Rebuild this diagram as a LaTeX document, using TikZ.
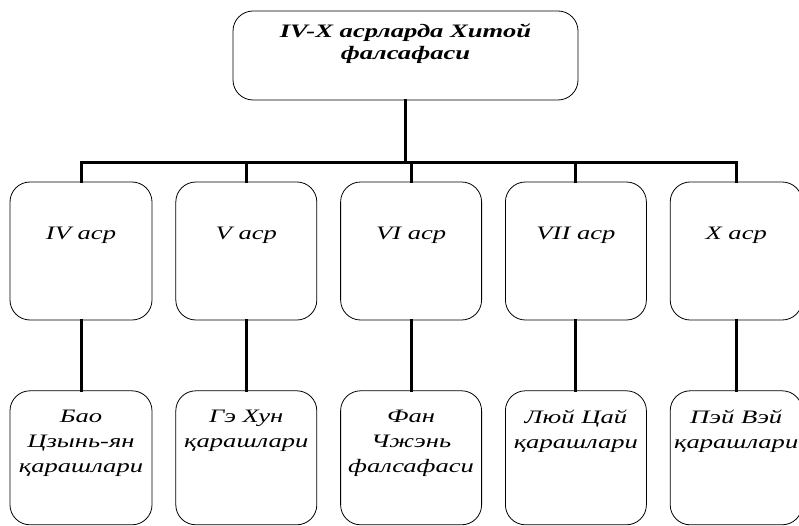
\documentclass[tikz,border=0pt]{standalone}
\usepackage{fontspec}
\newfontfamily\cyrserif{Liberation Serif}[FakeStretch=1.4]
\usetikzlibrary{positioning}

% text set at the top of a fixed box: width, height, top skip, text
\newcommand{\boxtxt}[4]{\parbox[c][#2][t]{#1}{\centering\vspace*{#3}#4}}

\tikzset{
    box/.style={draw, rectangle, rounded corners=20pt, line width=0.8pt, inner sep=0pt,
        font=\cyrserif\itshape\fontsize{19}{25}\selectfont},
    headbox/.style={box, font=\cyrserif\itshape\bfseries\fontsize{19}{22}\selectfont},
    link/.style={line width=3pt, line cap=rect}
}

\begin{document}
\begin{tikzpicture}[x=1pt, y=1pt]
    \useasboundingbox (0,0) rectangle (799,525);

    % Title
    \node[headbox] (title) at (405.5,469.5) {\boxtxt{345pt}{89pt}{13pt}{IV-X асрларда Хитой\\ фалсафаси}};

    % Centuries
    \node[box] (c1) at (81,274) {\boxtxt{142pt}{138pt}{45pt}{IV аср}};
    \node[box, right=23pt of c1] (c2) {\boxtxt{141pt}{138pt}{45pt}{V аср}};
    \node[box, right=23pt of c2] (c3) {\boxtxt{141pt}{138pt}{45pt}{VI аср}};
    \node[box, right=23pt of c3] (c4) {\boxtxt{141pt}{138pt}{45pt}{VII аср}};
    \node[box, right=23pt of c4] (c5) {\boxtxt{132pt}{138pt}{45pt}{X аср}};

    % Thinkers
    \node[box, below=70pt of c1] (t1) {\boxtxt{142pt}{134pt}{19pt}{Бао\\ Цзынь-ян\\ қарашлари}};
    \node[box, below=70pt of c2] (t2) {\boxtxt{141pt}{134pt}{19pt}{Гэ Хун\\ қарашлари}};
    \node[box, below=70pt of c3] (t3) {\boxtxt{141pt}{134pt}{19pt}{Фан\\ Чжэнь\\ фалсафаси}};
    \node[box, below=70pt of c4] (t4) {\boxtxt{141pt}{134pt}{19pt}{Люй Цай\\ қарашлари}};
    \node[box, below=70pt of c5] (t5) {\boxtxt{132pt}{134pt}{19pt}{Пэй Вэй\\ қарашлари}};

    % Connectors
    \coordinate (bus) at (0,362);
    \draw[link] (title) -- (title |- bus);
    \draw[link] (c1.north |- bus) -- (c5.north |- bus);
    \foreach \i in {1,...,5} {
        \draw[link] (c\i.north |- bus) -- (c\i.north);
        \draw[link] (c\i) -- (t\i);
    }
\end{tikzpicture}
\end{document}
